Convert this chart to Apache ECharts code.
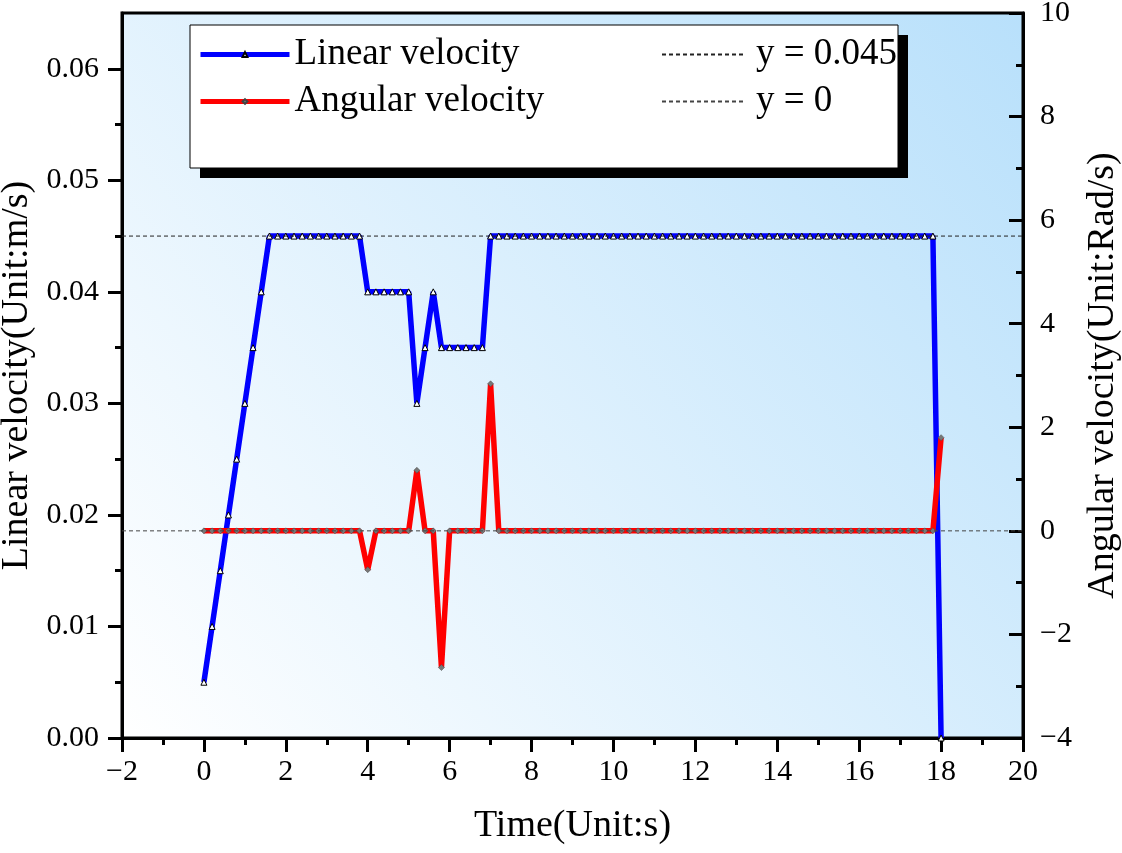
<!DOCTYPE html>
<html>
<head>
<meta charset="UTF-8">
<title>Velocity</title>
<script src="https://cdn.jsdelivr.net/npm/echarts@6/dist/echarts.min.js"></script>
<style>
  html, body { margin: 0; padding: 0; background: #fff; }
  #chart { width: 1122px; height: 853px; }
</style>
</head>
<body>
<div id="chart"></div>
<script>
// sample times (s), one every 0.2 s
var time = [
  0, 0.2, 0.4, 0.6, 0.8, 1.0, 1.2, 1.4, 1.6, 1.8,
  2.0, 2.2, 2.4, 2.6, 2.8, 3.0, 3.2, 3.4, 3.6, 3.8,
  4.0, 4.2, 4.4, 4.6, 4.8, 5.0, 5.2, 5.4, 5.6, 5.8,
  6.0, 6.2, 6.4, 6.6, 6.8, 7.0, 7.2, 7.4, 7.6, 7.8,
  8.0, 8.2, 8.4, 8.6, 8.8, 9.0, 9.2, 9.4, 9.6, 9.8,
  10.0, 10.2, 10.4, 10.6, 10.8, 11.0, 11.2, 11.4, 11.6, 11.8,
  12.0, 12.2, 12.4, 12.6, 12.8, 13.0, 13.2, 13.4, 13.6, 13.8,
  14.0, 14.2, 14.4, 14.6, 14.8, 15.0, 15.2, 15.4, 15.6, 15.8,
  16.0, 16.2, 16.4, 16.6, 16.8, 17.0, 17.2, 17.4, 17.6, 17.8,
  18.0
];
// linear velocity (m/s)
var linearVel = [
  0.005, 0.010, 0.015, 0.020, 0.025, 0.030, 0.035, 0.040, 0.045, 0.045,
  0.045, 0.045, 0.045, 0.045, 0.045, 0.045, 0.045, 0.045, 0.045, 0.045,
  0.040, 0.040, 0.040, 0.040, 0.040, 0.040, 0.030, 0.035, 0.040, 0.035,
  0.035, 0.035, 0.035, 0.035, 0.035, 0.045, 0.045, 0.045, 0.045, 0.045,
  0.045, 0.045, 0.045, 0.045, 0.045, 0.045, 0.045, 0.045, 0.045, 0.045,
  0.045, 0.045, 0.045, 0.045, 0.045, 0.045, 0.045, 0.045, 0.045, 0.045,
  0.045, 0.045, 0.045, 0.045, 0.045, 0.045, 0.045, 0.045, 0.045, 0.045,
  0.045, 0.045, 0.045, 0.045, 0.045, 0.045, 0.045, 0.045, 0.045, 0.045,
  0.045, 0.045, 0.045, 0.045, 0.045, 0.045, 0.045, 0.045, 0.045, 0.045,
  0
];
// angular velocity (rad/s)
var angularVel = [
  0, 0, 0, 0, 0, 0, 0, 0, 0, 0,
  0, 0, 0, 0, 0, 0, 0, 0, 0, 0,
  -0.75, 0, 0, 0, 0, 0, 1.17, 0, 0, -2.64,
  0, 0, 0, 0, 0, 2.84, 0, 0, 0, 0,
  0, 0, 0, 0, 0, 0, 0, 0, 0, 0,
  0, 0, 0, 0, 0, 0, 0, 0, 0, 0,
  0, 0, 0, 0, 0, 0, 0, 0, 0, 0,
  0, 0, 0, 0, 0, 0, 0, 0, 0, 0,
  0, 0, 0, 0, 0, 0, 0, 0, 0, 0,
  1.8
];
// reference lines
var refLinear = 0.045;
var refAngular = 0;
var xRange = [-2, 20];

// tick positions on the left axis
var leftMajorTicks = [0, 0.01, 0.02, 0.03, 0.04, 0.05, 0.06];
var leftMinorTicks = [0.005, 0.015, 0.025, 0.035, 0.045, 0.055];

var font = 'Liberation Serif';
var minus = function (v) { return String(v).replace('-', '\u2212'); };

var linPairs = time.map(function (t, i) { return [t, linearVel[i]]; });
var angPairs = time.map(function (t, i) { return [t, angularVel[i]]; });

var chart = echarts.init(document.getElementById('chart'));

var legendText = { fontFamily: font, fontSize: 37, lineHeight: 37, color: '#000' };

var option = {
  animation: false,
  backgroundColor: '#fff',
  grid: {
    left: 122, right: 99, top: 13, bottom: 115,
    outerBoundsMode: 'none',
    show: true,
    borderColor: '#000',
    borderWidth: 3,
    backgroundColor: new echarts.graphic.LinearGradient(0, 1, 1, 0, [
      { offset: 0, color: '#ffffff' },
      { offset: 1, color: '#b8e0fb' }
    ])
  },
  graphic: [
    { type: 'rect', z: 10, shape: { x: 200, y: 35, width: 708, height: 143 },
      style: { fill: '#000' } },
    { type: 'rect', z: 11, shape: { x: 190, y: 25, width: 708, height: 143 },
      style: { fill: '#fff', stroke: '#000', lineWidth: 1 } }
  ],
  legend: [
    {
      z: 20,
      orient: 'vertical',
      left: 193, top: 31,
      itemWidth: 89, itemHeight: 6, itemGap: 10,
      lineStyle: { width: 5 },
      data: ['Linear velocity', 'Angular velocity'],
      textStyle: legendText
    },
    {
      z: 20,
      orient: 'vertical',
      left: 656, top: 31,
      itemWidth: 84, itemHeight: 6, itemGap: 10,
      data: [
        { name: 'y = 0.045', itemStyle: { color: 'rgba(0,0,0,0)', borderWidth: 0 } },
        { name: 'y = 0', itemStyle: { color: 'rgba(0,0,0,0)', borderWidth: 0 } }
      ],
      textStyle: Object.assign({ padding: [0, 0, 0, 5] }, legendText)
    }
  ],
  xAxis: {
    type: 'value',
    min: xRange[0], max: xRange[1], interval: 2,
    name: 'Time(Unit:s)',
    nameLocation: 'middle',
    nameGap: 69,
    nameTextStyle: { fontFamily: font, fontSize: 38, color: '#000' },
    axisLine: { show: true, onZero: false, lineStyle: { color: '#000', width: 3 } },
    axisTick: { show: true, inside: false, length: 14, lineStyle: { color: '#000', width: 3 } },
    minorTick: { show: true, splitNumber: 2, length: 7, lineStyle: { color: '#000', width: 3 } },
    axisLabel: { margin: 19, fontFamily: font, fontSize: 30, color: '#000', formatter: minus },
    splitLine: { show: false }
  },
  yAxis: [
    {
      type: 'value',
      position: 'left',
      min: 0, max: 0.065, interval: 0.01,
      name: 'Linear velocity(Unit:m/s)',
      nameLocation: 'middle',
      nameRotate: 90,
      nameGap: 84,
      nameTextStyle: { fontFamily: font, fontSize: 38, color: '#000' },
      axisLine: { show: true, onZero: false, lineStyle: { color: '#000', width: 3 } },
      axisTick: { show: true, inside: false, length: 14, customValues: leftMajorTicks,
        lineStyle: { color: '#000', width: 3 } },
      axisLabel: { margin: 23, fontFamily: font, fontSize: 30, color: '#000',
        customValues: leftMajorTicks,
        formatter: function (v) { return v.toFixed(2); } },
      splitLine: { show: false }
    },
    {
      type: 'value',
      position: 'right',
      min: -4, max: 10, interval: 2,
      name: 'Angular velocity(Unit:Rad/s)',
      nameLocation: 'middle',
      nameRotate: 90,
      nameGap: 61,
      nameTextStyle: { fontFamily: font, fontSize: 38, color: '#000' },
      axisLine: { show: true, onZero: false, lineStyle: { color: '#000', width: 3 } },
      axisTick: { show: true, inside: true, length: 14, lineStyle: { color: '#000', width: 3 } },
      minorTick: { show: true, splitNumber: 2, length: 7, lineStyle: { color: '#000', width: 3 } },
      axisLabel: { margin: 17, fontFamily: font, fontSize: 30, color: '#000', formatter: minus },
      splitLine: { show: false }
    },
    {
      // minor ticks of the left axis only
      type: 'value',
      position: 'left',
      min: 0, max: 0.065,
      axisLine: { show: false, onZero: false },
      axisTick: { show: true, inside: false, length: 7, customValues: leftMinorTicks,
        lineStyle: { color: '#000', width: 3 } },
      axisLabel: { show: false },
      splitLine: { show: false }
    }
  ],
  series: [
    {
      name: 'Linear velocity',
      type: 'line',
      yAxisIndex: 0,
      data: linPairs,
      symbol: 'triangle',
      symbolSize: 6,
      showAllSymbol: true,
      lineStyle: { color: '#0000ff', width: 5.5 },
      itemStyle: { color: '#fff', borderColor: '#000', borderWidth: 1 },
      z: 3
    },
    {
      name: 'Angular velocity',
      type: 'line',
      yAxisIndex: 1,
      data: angPairs,
      symbol: 'diamond',
      symbolSize: 6,
      showAllSymbol: true,
      lineStyle: { color: '#ff0000', width: 5.5 },
      itemStyle: { color: '#777', borderColor: '#444', borderWidth: 0.5 },
      z: 4
    },
    {
      name: 'y = 0.045',
      type: 'line',
      yAxisIndex: 0,
      data: [[xRange[0], refLinear], [xRange[1], refLinear]],
      symbol: 'none',
      lineStyle: { color: '#222', width: 1, type: [4, 3] },
      itemStyle: { color: '#222' },
      z: 5
    },
    {
      name: 'y = 0',
      type: 'line',
      yAxisIndex: 1,
      data: [[xRange[0], refAngular], [xRange[1], refAngular]],
      symbol: 'none',
      lineStyle: { color: '#444', width: 1, type: [4, 3] },
      itemStyle: { color: '#444' },
      z: 5
    }
  ]
};

chart.setOption(option);
</script>
</body>
</html>
